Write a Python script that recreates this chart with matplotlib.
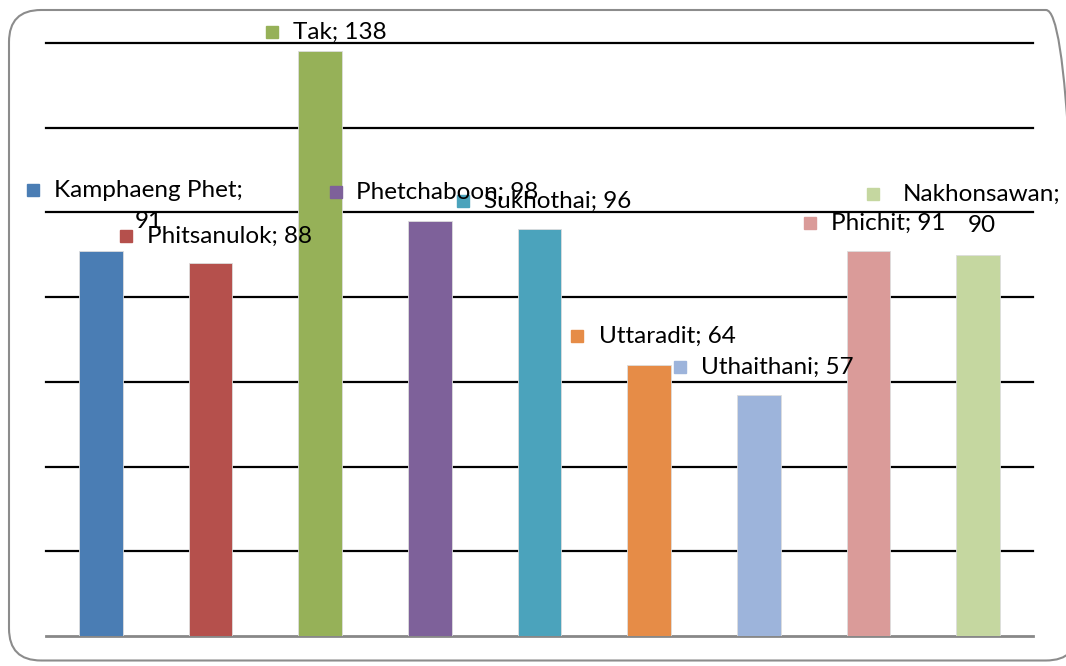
import matplotlib.pyplot as plt
from matplotlib.patches import FancyBboxPatch

# provinces and values
provinces = ["Kamphaeng Phet", "Phitsanulok", "Tak", "Phetchaboon", "Sukhothai",
             "Uttaradit", "Uthaithani", "Phichit", "Nakhonsawan"]
values = [91, 88, 138, 98, 96, 64, 57, 91, 90]
colors = ["#4a7db4", "#b5504c", "#96b158", "#7e619a", "#4ba3bc",
          "#e68c47", "#9db4db", "#da9b99", "#c5d7a0"]

# where excel put the data labels (marker position, data coords)
label_x = [-0.62, 0.23, 1.56, 2.14, 3.30, 4.34, 5.28, 6.47, 7.04]
label_y = [105.3, 94.4, 142.6, 104.8, 102.7, 70.8, 63.5, 97.5, 104.3]
label_text = ["Kamphaeng Phet;\n91", "Phitsanulok; 88", "Tak; 138", "Phetchaboon; 98",
              "Sukhothai; 96", "Uttaradit; 64", "Uthaithani; 57", "Phichit; 91",
              "Nakhonsawan;\n90"]
text_gap = [15.5, 15, 15, 15, 15, 16, 15, 15, 21.5]

plt.rcParams['font.family'] = ['Lato', 'DejaVu Sans']

fig = plt.figure(figsize=(10.66, 6.66), dpi=100)
ax = fig.add_axes([46 / 1066, 1 - 636 / 666, 987 / 1066, 593 / 666])

x = range(len(provinces))
ax.bar(x, values, width=0.4, color=colors, edgecolor="#dddddd", linewidth=0.6, zorder=3)

ax.set_xlim(-0.5, 8.5)
ax.set_ylim(0, 140)
ax.set_yticks(range(20, 141, 20))
ax.yaxis.grid(True, color="black", linewidth=1.6, zorder=1)
for gl in ax.get_ygridlines():
    gl.set_clip_on(False)
ax.tick_params(left=False, bottom=False, labelleft=False, labelbottom=False)
for s in ["top", "right", "left"]:
    ax.spines[s].set_visible(False)
ax.spines["bottom"].set_color("#888888")
ax.spines["bottom"].set_linewidth(2)

for i in range(len(provinces)):
    ax.plot(label_x[i], label_y[i], marker="s", markersize=9, color=colors[i],
            clip_on=False, zorder=5)
    lines = label_text[i].split("\n")
    if len(lines) == 1:
        ax.annotate(label_text[i], (label_x[i], label_y[i]), xytext=(text_gap[i], 0),
                    textcoords="offset points", ha="left", va="center",
                    fontsize=17.5, annotation_clip=False, zorder=6)
    else:
        ax.annotate(label_text[i], (label_x[i], label_y[i]), xytext=(text_gap[i], 7.5),
                    textcoords="offset points", ha="left", va="top",
                    multialignment="center", fontsize=17.5, linespacing=1.6,
                    annotation_clip=False, zorder=6)

# rounded chart border, right side runs off the image like the original
border = FancyBboxPatch((0.09, 0.055), 10.69, 6.505,
                        boxstyle="round,pad=0,rounding_size=0.32",
                        transform=fig.dpi_scale_trans, facecolor="none",
                        edgecolor="#8c8c8c", linewidth=1.5)
fig.patches.append(border)

fig.savefig("out.png", dpi=100)
